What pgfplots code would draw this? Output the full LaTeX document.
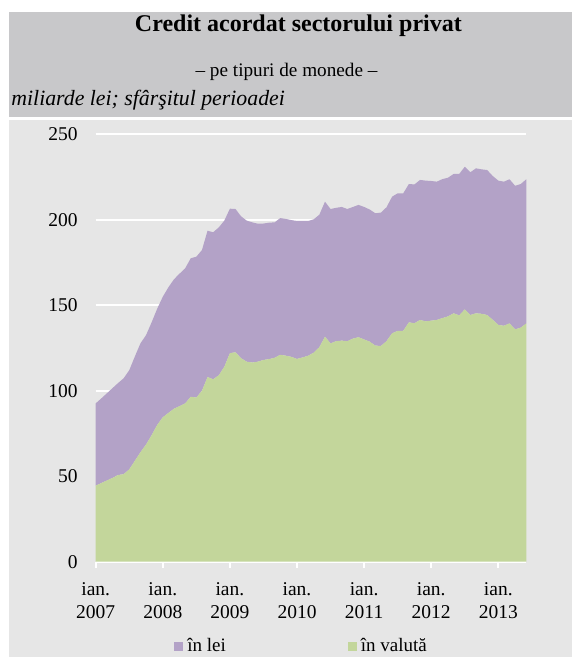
\documentclass[border=0pt]{standalone}
\usepackage{fontspec}
\setmainfont{Liberation Serif}
\usepackage{pgfplots}
\usepackage{pgfplotstable}
\pgfplotsset{compat=1.18}
\definecolor{lei}{HTML}{B3A2C7}
\definecolor{val}{HTML}{C3D69B}
\definecolor{bg}{HTML}{E6E6E6}
\definecolor{tb}{HTML}{C8C8CA}
\pgfplotstableread{
m val lei
0 44.5 48.1
1 46 49.5
2 47.5 51
3 49 52.5
4 50.7 53.8
5 51.2 56.1
6 54 58
7 59 61
8 64 63.7
9 68.5 64
10 74 66
11 80 68
12 84.5 70.5
13 87 73.5
14 89.5 75.7
15 91 77.5
16 92.6 79
17 96.5 81
18 96 82.4
19 100 82.3
20 108 85.6
21 106.7 86
22 109 86.5
23 114 85.5
24 122 84.5
25 122.5 83.8
26 119 83
27 117 82.5
28 116.5 82
29 117 80.7
30 118 79.8
31 118.5 79.8
32 119.3 79.2
33 121 80
34 120.5 80
35 119.8 80
36 118.6 80.7
37 119.5 79.8
38 120.5 78.8
39 122.3 78
40 125.5 77.5
41 131.6 79
42 127.7 78.6
43 129 78
44 129.3 78.2
45 129 77.3
46 130.5 77
47 131.3 77.4
48 130 77.5
49 128.7 77.3
50 126.4 77.4
51 126.2 78
52 129 78.3
53 133.6 79.9
54 135 80.5
55 135.1 80.4
56 140 80.9
57 139.5 81.2
58 141.4 81.9
59 140.6 82.3
60 141 81.7
61 141.4 80.9
62 142.5 81.3
63 143.5 81.1
64 145.3 81.5
65 144.1 82.7
66 147.6 83.4
67 144.3 83.5
68 145.3 84.8
69 145 84.5
70 144.3 84.8
71 141.5 84.1
72 138.5 84.4
73 138 84.3
74 139.4 84.3
75 135.9 84
76 136.9 84
77 139.4 84.3
}\credit
\begin{document}
\begin{tikzpicture}
\begin{scope}[x=0.5pt,y=-0.5pt]
\fill[white] (0,0) rectangle (572,657);
\fill[tb] (9,12) rectangle (572,117.5);
\fill[bg] (9,120) rectangle (572,657);
\node[font=\bfseries\fontsize{12}{14}\selectfont, anchor=base, inner sep=0pt] at (298.4,32) {Credit acordat sectorului privat};
\node[font=\fontsize{9.6}{11.5}\selectfont, anchor=base, inner sep=0pt] at (286.5,77) {– pe tipuri de monede –};
\node[font=\itshape\fontsize{10.9}{13}\selectfont, anchor=base west, inner sep=0pt] at (11,106) {miliarde lei; sfârşitul perioadei};
\coordinate (O) at (95.7,561.7);
\coordinate (BB1) at (0,0);
\coordinate (BB2) at (572,657);
\end{scope}
\begin{axis}[
  at={(O)}, anchor=south west,
  scale only axis, width=215.3pt, height=213.7pt,
  xmin=0, xmax=77, ymin=0, ymax=250,
  axis lines*=left,
  y axis line style={draw=none},
  x axis line style={white, line width=1.2pt},
  ytick={0,50,...,250},
  ymajorgrids, grid style={white, line width=1pt},
  ytick style={draw=none},
  xtick={0,12,...,72},
  xticklabels={ian.\\2007,ian.\\2008,ian.\\2009,ian.\\2010,ian.\\2011,ian.\\2012,ian.\\2013},
  xticklabel style={align=center, yshift=-4pt},
  xtick style={white, line width=1pt},
  tick align=outside, major tick length=3pt,
  tick label style={font=\fontsize{9.75}{11.35}\selectfont},
  /pgf/number format/assume math mode=true,
  yticklabel style={xshift=-2.5pt},
  stack plots=y,
  legend style={at={(0.1818,-0.198)}, anchor=west, draw=none, fill=none, inner sep=0pt,
    font=\fontsize{9.5}{11}\selectfont,
    /tikz/every even column/.append style={column sep=59pt}},
  legend columns=2,
  reverse legend,
  legend image code/.code={\fill[#1] (0pt,-2.25pt) rectangle (4.5pt,2.25pt);},
]
\addplot[fill=val, draw=none] table[x=m,y=val] {\credit} \closedcycle;
\addlegendentry{în valută}
\addplot[fill=lei, draw=none] table[x=m,y=lei] {\credit} \closedcycle;
\addlegendentry{în lei}
\end{axis}
\pgfresetboundingbox
\useasboundingbox (BB1) rectangle (BB2);
\end{tikzpicture}
\end{document}
